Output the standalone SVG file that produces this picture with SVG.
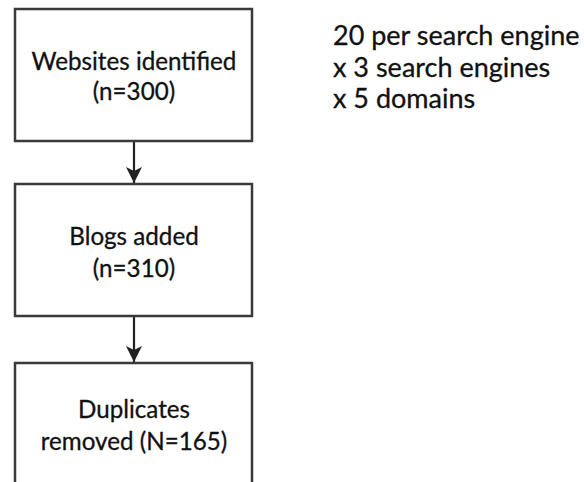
<svg xmlns="http://www.w3.org/2000/svg" width="584" height="482" viewBox="0 0 584 482">
<style>
.box{fill:#fff;stroke:#3a3a3a;stroke-width:2.5}
.t{font-family:Lato,"Open Sans",sans-serif;font-size:24.2px;fill:#111;stroke:#111;stroke-width:0.3;text-anchor:middle}
.n{font-family:Lato,"Open Sans",sans-serif;font-size:27px;fill:#111;stroke:#111;stroke-width:0.3}
.c{stroke:#222;stroke-width:2.2;fill:none}
</style>
<defs>
<marker id="ah" markerUnits="userSpaceOnUse" markerWidth="18" markerHeight="16" refX="16" refY="8" orient="auto">
<path d="M0,0 L16,8 L0,16 L4,8 Z" fill="#222"/>
</marker>
</defs>
<rect width="584" height="482" fill="#fff"/>
<g id="connectors">
<line class="c" x1="134" y1="141" x2="134" y2="183" marker-end="url(#ah)"/>
<line class="c" x1="134" y1="316" x2="134" y2="362" marker-end="url(#ah)"/>
</g>
<g id="n1">
<rect class="box" x="15" y="9" width="237" height="132"/>
<text class="t" x="134" y="70">Websites identified</text>
<text class="t" x="134" y="100">(n=300)</text>
</g>
<g id="n2">
<rect class="box" x="15" y="184" width="237" height="132"/>
<text class="t" x="134" y="245">Blogs added</text>
<text class="t" x="134" y="277">(n=310)</text>
</g>
<g id="n3">
<rect class="box" x="15" y="363" width="237" height="130"/>
<text class="t" x="134" y="418">Duplicates</text>
<text class="t" x="134" y="450">removed (N=165)</text>
</g>
<g id="note">
<text class="n" x="333" y="45">20 per search engine</text>
<text class="n" x="333" y="77">x 3 search engines</text>
<text class="n" x="333" y="108">x 5 domains</text>
</g>
</svg>
